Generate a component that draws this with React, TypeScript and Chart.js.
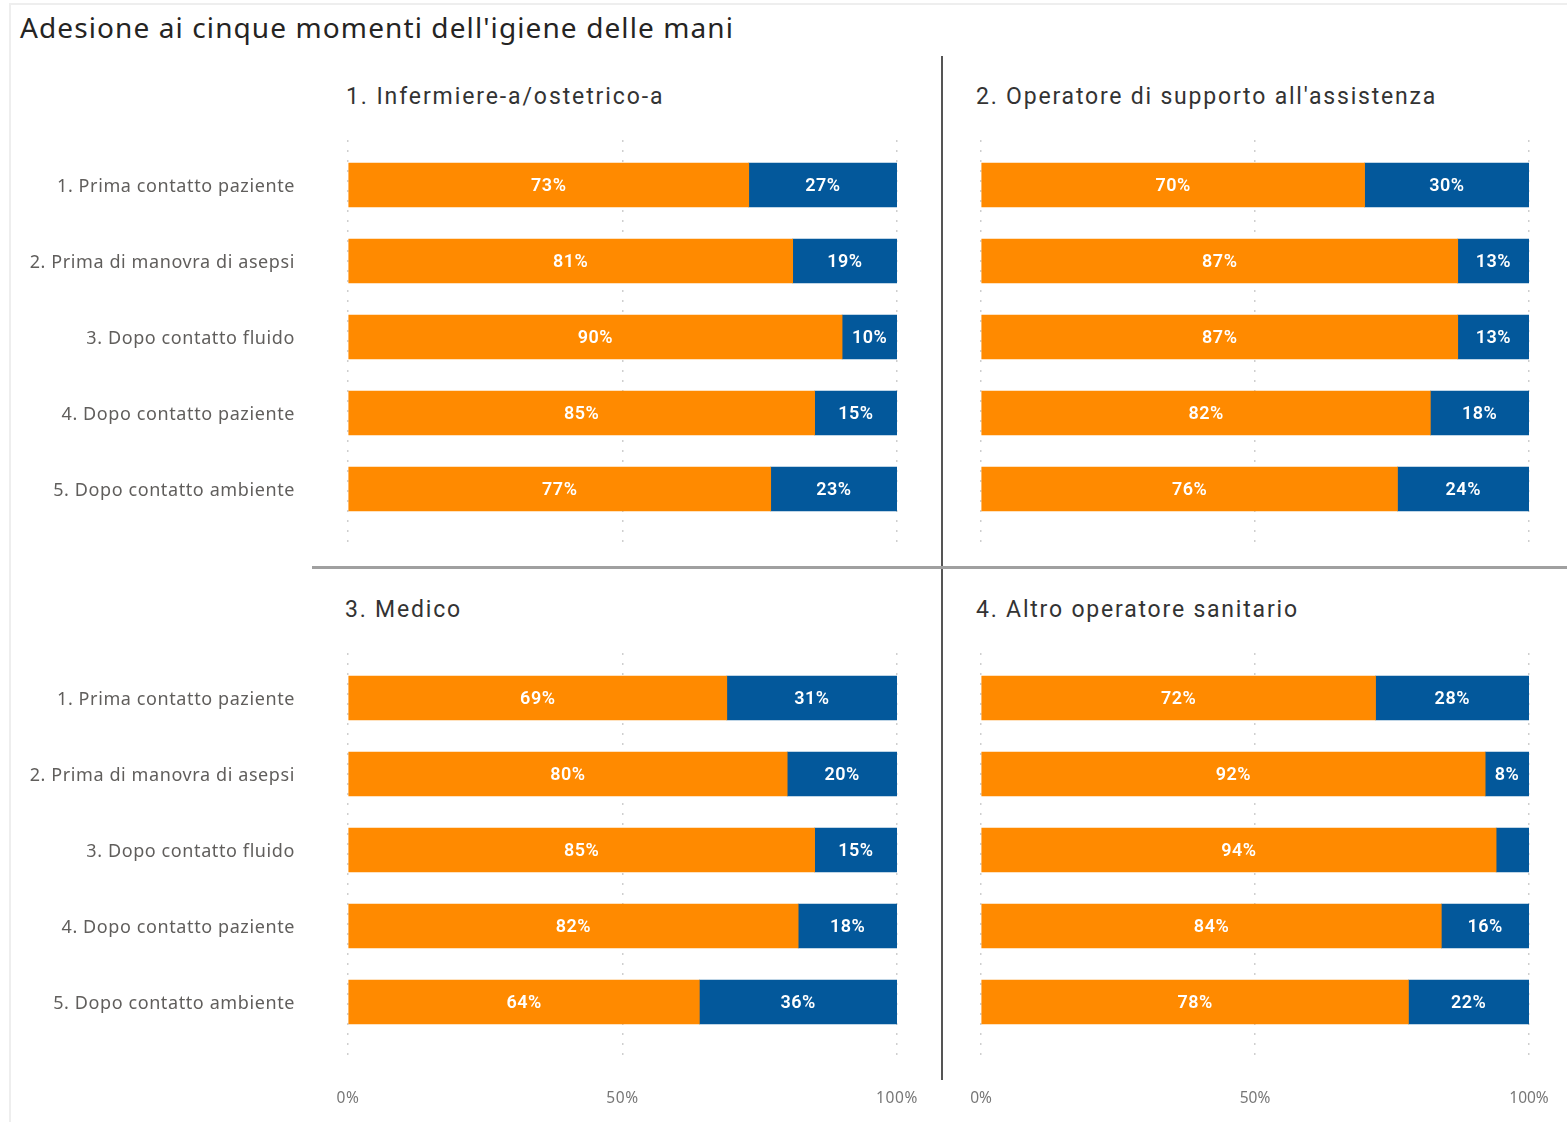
import React, { useEffect, useRef } from "react";
import { Chart, registerables } from "chart.js";

Chart.register(...registerables);

const chartTitle = "Adesione ai cinque momenti dell'igiene delle mani";
const categories = [
  "1. Prima contatto paziente",
  "2. Prima di manovra di asepsi",
  "3. Dopo contatto fluido",
  "4. Dopo contatto paziente",
  "5. Dopo contatto ambiente",
];
const panelTitles = [
  "1. Infermiere-a/ostetrico-a",
  "2. Operatore di supporto all'assistenza",
  "3. Medico",
  "4. Altro operatore sanitario",
];
const seriesNames = ["Adesione", "Non adesione"];

const adesioneInfermiere = [73, 81, 90, 85, 77];
const nonAdesioneInfermiere = [27, 19, 10, 15, 23];
const adesioneOperatore = [70, 87, 87, 82, 76];
const nonAdesioneOperatore = [30, 13, 13, 18, 24];
const adesioneMedico = [69, 80, 85, 82, 64];
const nonAdesioneMedico = [31, 20, 15, 18, 36];
const adesioneAltro = [72, 92, 94, 84, 78];
const nonAdesioneAltro = [28, 8, 6, 16, 22];

const xTickValues = [0, 50, 100];
const xTickLabels = ["0%", "50%", "100%"];

const ORANGE = "#FF8A00";
const BLUE = "#03589B";
const LABEL_FONT = "'Noto Sans', 'Open Sans', sans-serif";
const DIN_FONT = "Roboto, 'Noto Sans', sans-serif";

const barLabelsPlugin = {
  id: "barLabels",
  afterDatasetsDraw(chart: any) {
    const ctx = chart.ctx;
    ctx.save();
    ctx.font = `600 18px ${DIN_FONT}`;
    try {
      (ctx as any).letterSpacing = "0.5px";
    } catch (e) {}
    ctx.fillStyle = "#ffffff";
    ctx.textAlign = "center";
    ctx.textBaseline = "middle";
    chart.data.datasets.forEach((ds: any, di: number) => {
      const meta = chart.getDatasetMeta(di);
      meta.data.forEach((el: any, i: number) => {
        const v = ds.data[i].x;
        const p = el.getProps(["x", "y", "base"], true);
        const w = Math.abs(p.x - p.base);
        const txt = `${v}%`;
        if (ctx.measureText(txt).width + 12 > w) return;
        ctx.fillText(txt, (p.x + p.base) / 2, p.y + 1);
      });
    });
    ctx.restore();
  },
};

type PanelProps = {
  left: number;
  top: number;
  width: number;
  height: number;
  padding: { top: number; bottom: number; left: number; right: number };
  showY: boolean;
  showX: boolean;
  yMin: number;
  yMax: number;
  aValues: number[];
  bValues: number[];
};

function Panel(props: PanelProps) {
  const ref = useRef<HTMLCanvasElement | null>(null);
  useEffect(() => {
    if (!ref.current) return;
    const chart = new Chart(ref.current, {
      type: "bar",
      data: {
        datasets: [
          {
            label: seriesNames[0],
            data: props.aValues.map((v, i) => ({ x: v, y: i })),
            backgroundColor: ORANGE,
            borderWidth: 0,
            barThickness: 44,
          },
          {
            label: seriesNames[1],
            data: props.bValues.map((v, i) => ({ x: v, y: i })),
            backgroundColor: BLUE,
            borderWidth: 0,
            barThickness: 44,
          },
        ],
      },
      options: {
        animation: false,
        responsive: false,
        maintainAspectRatio: false,
        indexAxis: "y",
        layout: { padding: props.padding },
        plugins: {
          legend: { display: false },
          tooltip: { enabled: false },
          title: { display: false },
        },
        scales: {
          x: {
            type: "linear",
            min: 0,
            max: 100,
            stacked: true,
            afterBuildTicks: (s: any) => {
              s.ticks = xTickValues.map((v) => ({ value: v }));
            },
            afterFit: (s: any) => {
              s.height = props.showX ? 55 : 0;
              s.paddingLeft = 0;
              s.paddingRight = 0;
            },
            grid: {
              display: true,
              drawTicks: false,
              color: "#cfcfcf",
              lineWidth: 1.5,
            },
            border: { display: false, dash: [2, 8] },
            ticks: {
              display: props.showX,
              padding: 29,
              color: "#777",
              font: { family: LABEL_FONT, size: 15.5 },
              maxRotation: 0,
              autoSkip: false,
              callback: (v: any) => xTickLabels[xTickValues.indexOf(v)],
            },
          },
          y: {
            type: "linear",
            display: props.showY,
            reverse: true,
            offset: false,
            min: props.yMin,
            max: props.yMax,
            stacked: true,
            afterBuildTicks: (s: any) => {
              s.ticks = categories.map((_, i) => ({ value: i }));
            },
            afterFit: (s: any) => {
              s.width = props.showY ? 338 : 0;
              s.paddingTop = 0;
              s.paddingBottom = 0;
            },
            grid: { display: false, drawTicks: false, offset: false },
            border: { display: false },
            ticks: {
              padding: 53,
              labelOffset: 2,
              color: "#605E5C",
              autoSkip: false,
              font: { family: LABEL_FONT, size: 18, lineHeight: 1.0 },
              callback: (v: any) => categories[v],
            },
          },
        },
      },
      plugins: [barLabelsPlugin],
    } as any);
    return () => chart.destroy();
  }, []);
  return (
    <canvas
      ref={ref}
      width={props.width}
      height={props.height}
      style={{
        position: "absolute",
        left: props.left,
        top: props.top,
        width: props.width,
        height: props.height,
        letterSpacing: props.showY ? "0.6px" : "0px",
      }}
    />
  );
}

function Text(p: {
  left: number;
  cy: number;
  size: number;
  text: string;
  family: string;
  color: string;
  spacing?: number;
  weight?: number;
}) {
  return (
    <div
      style={{
        position: "absolute",
        left: p.left,
        top: p.cy - p.size * 0.7,
        fontSize: p.size,
        lineHeight: `${p.size * 1.4}px`,
        fontFamily: p.family,
        color: p.color,
        whiteSpace: "nowrap",
        letterSpacing: p.spacing ?? 0,
        fontWeight: p.weight ?? 400,
      }}
    >
      {p.text}
    </div>
  );
}

export default function App() {
  const topPad = { top: 20, bottom: 15 };
  const botPad = { top: 20, bottom: 0 };
  const topRange = { yMin: -45 / 76, yMax: 4 + 56 / 76 };
  const botRange = { yMin: -45 / 76, yMax: 4 + 58 / 76 };
  return (
    <div
      style={{
        position: "absolute",
        left: 0,
        top: 0,
        width: 1567,
        height: 1122,
        background: "#ffffff",
        overflow: "hidden",
      }}
    >
      <div
        style={{
          position: "absolute",
          left: 9,
          top: 3,
          width: 1560,
          height: 1125,
          borderTop: "2px solid #eeeeee",
          borderLeft: "2px solid #eeeeee",
        }}
      />
      <Text left={20} cy={28} size={28} text={chartTitle} family={LABEL_FONT} color="#252423" spacing={1.1} />

      <Panel
        left={10}
        top={120}
        width={940}
        height={440}
        padding={{ ...topPad, left: 0, right: 53 }}
        showY={true}
        showX={false}
        {...topRange}
        aValues={adesioneInfermiere}
        bValues={nonAdesioneInfermiere}
      />
      <Panel
        left={950}
        top={120}
        width={600}
        height={440}
        padding={{ ...topPad, left: 31, right: 21 }}
        showY={false}
        showX={false}
        {...topRange}
        aValues={adesioneOperatore}
        bValues={nonAdesioneOperatore}
      />
      <Panel
        left={10}
        top={633}
        width={940}
        height={482}
        padding={{ ...botPad, left: 0, right: 53 }}
        showY={true}
        showX={true}
        {...botRange}
        aValues={adesioneMedico}
        bValues={nonAdesioneMedico}
      />
      <Panel
        left={950}
        top={633}
        width={617}
        height={482}
        padding={{ ...botPad, left: 31, right: 38 }}
        showY={false}
        showX={true}
        {...botRange}
        aValues={adesioneAltro}
        bValues={nonAdesioneAltro}
      />

      <div style={{ position: "absolute", left: 941, top: 56, width: 2, height: 1024, background: "#555555" }} />
      <div style={{ position: "absolute", left: 312, top: 566, width: 1255, height: 3, background: "#a0a0a0" }} />

      <Text left={346} cy={97} size={23} text={panelTitles[0]} family={DIN_FONT} color="#333333" spacing={1.9} />
      <Text left={976} cy={97} size={23} text={panelTitles[1]} family={DIN_FONT} color="#333333" spacing={1.8} />
      <Text left={345} cy={610} size={23} text={panelTitles[2]} family={DIN_FONT} color="#333333" spacing={1.8} />
      <Text left={976} cy={610} size={23} text={panelTitles[3]} family={DIN_FONT} color="#333333" spacing={1.8} />
    </div>
  );
}
